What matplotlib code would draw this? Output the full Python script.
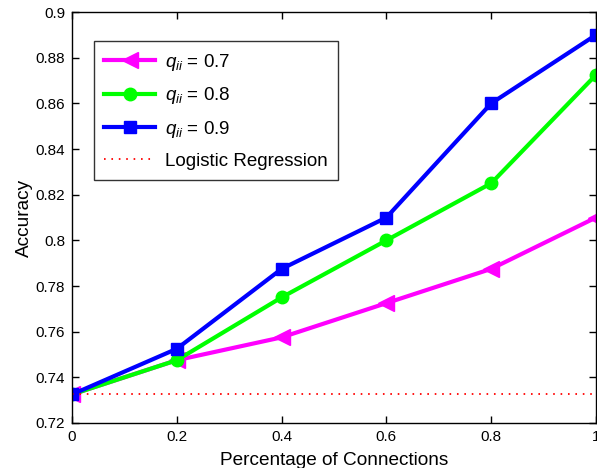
import matplotlib
matplotlib.use("Agg")
import matplotlib.pyplot as plt

plt.rcParams['font.family'] = ['Liberation Sans', 'DejaVu Sans']
plt.rcParams['mathtext.fontset'] = 'custom'
plt.rcParams['mathtext.it'] = 'Liberation Sans:italic'
plt.rcParams['mathtext.rm'] = 'Liberation Sans'

# data
conn = [0, 0.2, 0.4, 0.6, 0.8, 1.0]
acc_07 = [0.7325, 0.7475, 0.7575, 0.7725, 0.7875, 0.81]
acc_08 = [0.7325, 0.7475, 0.775, 0.80, 0.825, 0.8725]
acc_09 = [0.7325, 0.7525, 0.7875, 0.81, 0.86, 0.89]
logreg = 0.7325

fig = plt.figure(figsize=(5.97, 4.68), dpi=100)
ax = fig.add_axes([0.1206, 0.0962, 0.8777, 0.878])

ax.plot(conn, acc_07, color='#ff00ff', lw=3, marker='<', ms=11, label=r'$q_{ii}$ = 0.7')
ax.plot(conn, acc_08, color='#00ff00', lw=3, marker='o', ms=9, label=r'$q_{ii}$ = 0.8')
ax.plot(conn, acc_09, color='#0000ff', lw=3, marker='s', ms=9, label=r'$q_{ii}$ = 0.9')
ax.plot([0, 1], [logreg, logreg], color='#ff0000', lw=1.3, linestyle=(0, (0.9, 3.2)),
        label='Logistic Regression')

ax.set_xlim(0, 1)
ax.set_ylim(0.72, 0.9)
ax.set_xticks([0, 0.2, 0.4, 0.6, 0.8, 1])
ax.set_xticklabels(['0', '0.2', '0.4', '0.6', '0.8', '1'])
ax.set_yticks([0.72, 0.74, 0.76, 0.78, 0.8, 0.82, 0.84, 0.86, 0.88, 0.9])
ax.set_yticklabels(['0.72', '0.74', '0.76', '0.78', '0.8', '0.82', '0.84', '0.86', '0.88', '0.9'])
ax.tick_params(direction='in', top=True, right=True, labelsize=11, length=5, width=1, pad=5)
for s in ax.spines.values():
    s.set_linewidth(1)

ax.set_xlabel('Percentage of Connections', fontsize=13.7, labelpad=6)
ax.set_ylabel('Accuracy', fontsize=13.7, labelpad=2)

leg = ax.legend(loc='upper left', bbox_to_anchor=(0.042, 0.929), borderaxespad=0,
                fontsize=13.5, fancybox=False, edgecolor='black', handlelength=2.7,
                borderpad=0.55, labelspacing=0.68, handletextpad=0.55)
leg.get_frame().set_linewidth(1)

fig.savefig('out.png', dpi=100)
